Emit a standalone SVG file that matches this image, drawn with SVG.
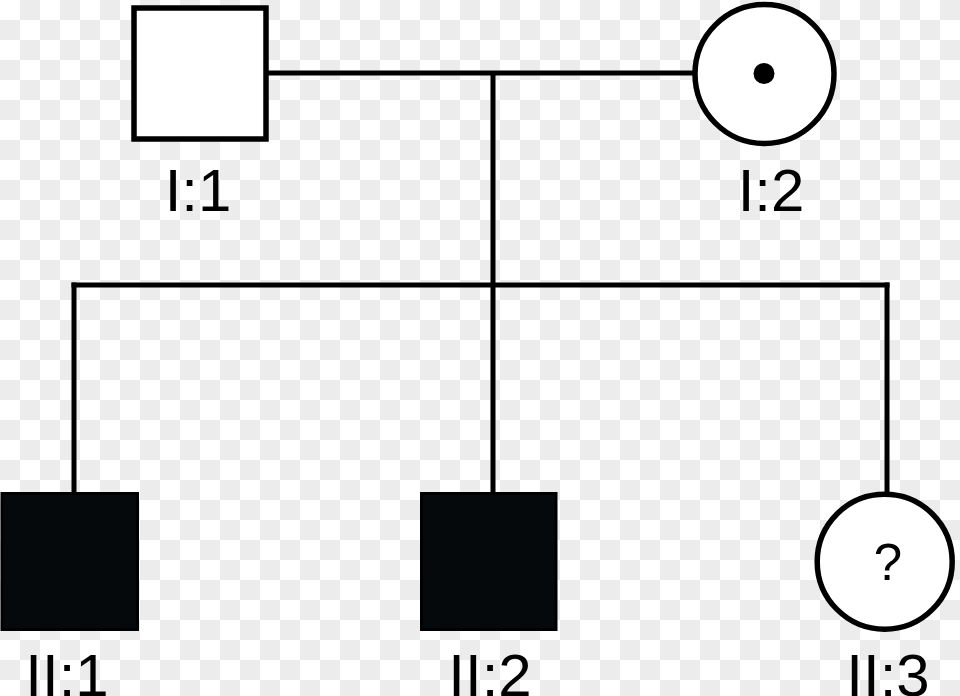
<svg xmlns="http://www.w3.org/2000/svg" width="960" height="696" viewBox="0 0 960 696">
  <defs>
    <pattern id="checker" patternUnits="userSpaceOnUse" width="40" height="40">
      <rect x="0" y="0" width="40" height="40" fill="#ffffff"/>
      <rect x="20" y="0" width="20" height="20" fill="#ececec"/>
      <rect x="0" y="20" width="20" height="20" fill="#ececec"/>
    </pattern>
  </defs>
  <style>
    .line { stroke: #000; stroke-width: 5; fill: none; }
    .open { fill: #fff; stroke: #000; stroke-width: 5.5; }
    .affected { fill: #05090b; stroke: #000; stroke-width: 3; }
    .label { font-family: "Liberation Sans", Arial, sans-serif; font-size: 60px; fill: #000; text-anchor: middle; }
    .mark { font-family: "Liberation Sans", Arial, sans-serif; font-size: 51px; fill: #000; text-anchor: middle; }
  </style>
  <rect x="0" y="0" width="960" height="696" fill="url(#checker)"/>
  <g id="connectors">
    <line class="line" x1="266" y1="73" x2="695" y2="73"/>
    <line class="line" x1="493" y1="73" x2="493" y2="493"/>
    <line class="line" x1="71.5" y1="285" x2="889.5" y2="285"/>
    <line class="line" x1="74" y1="282.5" x2="74" y2="493"/>
    <line class="line" x1="887" y1="282.5" x2="887" y2="492"/>
  </g>
  <g id="I1">
    <rect class="open" x="134" y="8" width="132" height="131"/>
    <text class="label" x="198" y="211">I:1</text>
  </g>
  <g id="I2">
    <circle class="open" cx="764.5" cy="74" r="69.5"/>
    <circle cx="764" cy="73.5" r="10.5" fill="#000"/>
    <text class="label" x="771" y="211">I:2</text>
  </g>
  <g id="II1">
    <rect class="affected" x="2" y="493.5" width="135.5" height="136"/>
    <text class="label" x="67" y="696">II:1</text>
  </g>
  <g id="II2">
    <rect class="affected" x="421.5" y="493.5" width="134.5" height="136"/>
    <text class="label" x="490" y="696">II:2</text>
  </g>
  <g id="II3">
    <circle class="open" cx="884.7" cy="561.7" r="67.5"/>
    <text class="mark" x="888" y="580">?</text>
    <text class="label" x="888" y="696">II:3</text>
  </g>
</svg>
